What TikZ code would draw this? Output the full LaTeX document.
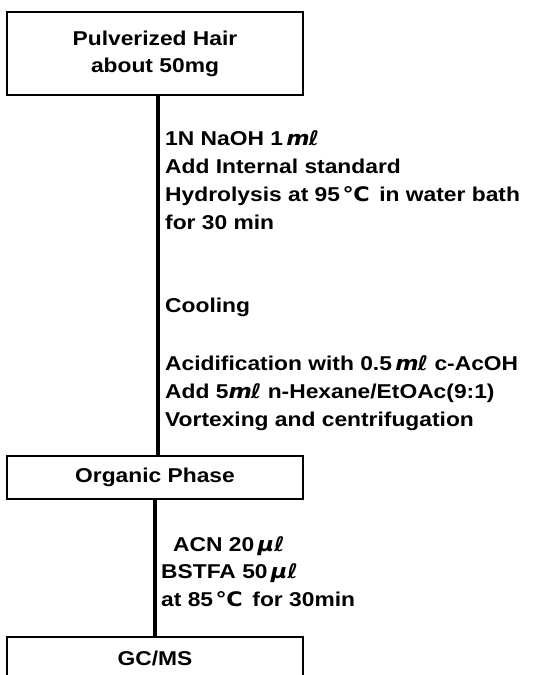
\documentclass[tikz,border=0pt]{standalone}
\usepackage{fontspec}
\setmainfont{Liberation Sans}[FakeStretch=1.14]
\newfontfamily\symf{DejaVu Sans}[FakeStretch=1.12]
\newcommand{\mlu}{{\symf\bfseries\itshape m\kern-0.05em ℓ}}
\newcommand{\ulu}{{\symf\bfseries\itshape μℓ}}
\newcommand{\degc}{\hspace{2.5pt}{\symf ℃}}
\begin{document}
\begin{tikzpicture}[x=1pt,y=1pt,
  box/.style={draw,line width=2.8pt,minimum width=296pt,inner sep=0pt,align=center,
    font=\fontsize{20}{27}\selectfont\bfseries},
  note/.style={anchor=north west,inner sep=0pt,align=left,
    font=\fontsize{20}{28}\selectfont\bfseries},
  conn/.style={line width=3.2pt}]
\useasboundingbox (0,0) rectangle (533,-675);
\clip (0,0) rectangle (533,-675);
\node[box,minimum height=83pt] (hair) at (155,-53.5) {Pulverized Hair\\about 50mg};
\node[box,minimum height=43pt] (org) at (155,-477.5) {Organic Phase};
\node[box,minimum height=42pt] (gc) at (155,-658) {GC/MS};
\draw[conn] ([xshift=3pt]hair.south) -- ([xshift=3pt]org.north);
\draw[conn] (org.south) -- (gc.north);
\node[note] (s1) at (165,-130) {1N NaOH 1\,\mlu\\Add Internal standard\\Hydrolysis at 95\degc\ \,in water bath\\for 30 min};
\node[note] (cool) at (165,-298) {Cooling};
\node[note] (s2) at (165,-355) {Acidification with 0.5\,\mlu\ c-AcOH\\Add 5\mlu\ n-Hexane/EtOAc(9:1)\\Vortexing and centrifugation};
\node[note,font=\fontsize{20}{27.5}\selectfont\bfseries] (s3) at (161,-536) {\hspace{12pt}ACN 20\,\ulu\\BSTFA 50\,\ulu\\at 85\degc\ \,for 30min};
\end{tikzpicture}
\end{document}
